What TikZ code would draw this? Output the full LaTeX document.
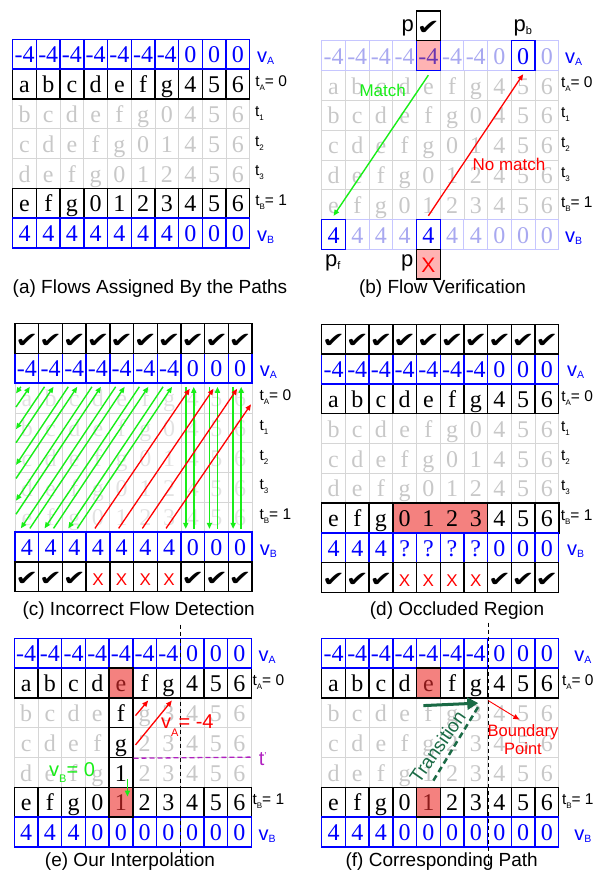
\documentclass[tikz,border=0pt]{standalone}
\usepackage{fontspec}
\setmainfont{Liberation Serif}
\setsansfont{Liberation Sans}
\newfontfamily\symf{DejaVu Sans}
\usetikzlibrary{arrows.meta,calc}
\definecolor{vblue}{HTML}{0000FF}
\definecolor{fgray}{HTML}{C8C8C8}
\definecolor{lgray}{HTML}{D6D6D6}
\definecolor{pgray}{HTML}{E2E2E2}
\definecolor{fblue}{HTML}{C6C6FF}
\definecolor{ftblue}{HTML}{A8A8F0}
\definecolor{pinkc}{HTML}{FFB3B3}
\definecolor{salmon}{HTML}{F4817F}
\definecolor{lgreen}{HTML}{18EE18}
\definecolor{dgreen}{HTML}{1A6A45}
\definecolor{tmag}{HTML}{B020C0}
\definecolor{dred}{HTML}{8B1A1A}
\definecolor{ppurple}{HTML}{6A34B0}

% row contents (blank = cell filled in later)
\def\rva{-4,-4,-4,-4,-4,-4,-4,0,0,0}
\def\rvab{-4,-4,-4,-4,,-4,-4,0,,0}
\def\rta{a,b,c,d,e,f,g,4,5,6}
\def\rtae{a,b,c,d,,f,g,4,5,6}
\def\rtone{b,c,d,e,f,g,0,4,5,6}
\def\rttwo{c,d,e,f,g,0,1,4,5,6}
\def\rtthree{d,e,f,g,0,1,2,4,5,6}
\def\rtb{e,f,g,0,1,2,3,4,5,6}
\def\rtbe{e,f,g,0,,2,3,4,5,6}
\def\rvb{4,4,4,4,4,4,4,0,0,0}
\def\rvbb{,4,4,4,,4,4,0,0,0}
\def\rvbd{4,4,4,?,?,?,?,0,0,0}
\def\rvbe{4,4,4,0,0,0,0,0,0,0}
\def\rtonee{b,c,d,e,f,g,3,4,5,6}
\def\rttwoe{c,d,e,f,g,2,3,4,5,6}
\def\rtthreee{d,e,f,g,1,2,3,4,5,6}
\def\rtoneb{b,c,d,e,,g,3,4,5,6}
\def\rttwob{c,d,e,f,,2,3,4,5,6}
\def\rtthreeb{d,e,f,g,,2,3,4,5,6}
\newcommand\ck{{\symf\fontsize{21}{21}\selectfont\scalebox{1.3}[1]{✔}}}
\newcommand\xx{{\sffamily\fontsize{17}{17}\selectfont\color{red}X}}
\def\rck{\ck,\ck,\ck,\ck,\ck,\ck,\ck,\ck,\ck,\ck}
\def\rckx{\ck,\ck,\ck,\xx,\xx,\xx,\xx,\ck,\ck,\ck}

% one row of cells: panel, row name, row index, style, list
\newcommand\cellrow[5]{\foreach \cv [count=\ci from 0] in #5 {\node[#4] (#1-#2-\ci) at (\ci+.5,#3+.5) {\cv};}}
\newcommand\sbv[1]{\raisebox{-2pt}{\fontsize{10.5}{10.5}\selectfont #1}}
\newcommand\sbt[1]{\raisebox{-4pt}{\fontsize{8}{8}\selectfont #1}}
\newcommand\sbp[1]{\raisebox{-3pt}{\fontsize{11}{11}\selectfont #1}}
% labels right of a panel: panel, v offset, t offset
\newcommand\sidelabels[3]{%
  \node[vlab] (#1-lva) at ([xshift=#2pt,yshift=-8pt]#1-va-9.east) {v\sbv{A}};
  \node[tlab] (#1-lt0) at ([xshift=#3pt,yshift=-2.5pt]#1-t0-9.east) {t\sbt{A}= 0};
  \node[tlab] (#1-lt4) at ([xshift=#3pt,yshift=-2.5pt]#1-t4-9.east) {t\sbt{B}= 1};
  \node[vlab] (#1-lvb) at ([xshift=#2pt,yshift=-8pt]#1-vb-9.east) {v\sbv{B}};}
\newcommand\midlabels[2]{%
  \node[tlab] (#1-lt1) at ([xshift=#2pt,yshift=-2.5pt]#1-t1-9.east) {t\sbt{1}};
  \node[tlab] (#1-lt2) at ([xshift=#2pt,yshift=-2.5pt]#1-t2-9.east) {t\sbt{2}};
  \node[tlab] (#1-lt3) at ([xshift=#2pt,yshift=-2.5pt]#1-t3-9.east) {t\sbt{3}};}

\begin{document}
\begin{tikzpicture}[x=23.7pt,y=-29.8pt,
  cellb/.style={minimum width=23.7pt,minimum height=29.8pt,inner sep=0pt,
                text height=17.5pt,text depth=0pt,font=\fontsize{24}{24}\selectfont},
  blk/.style={cellb,draw=black,line width=1.4pt},
  blu/.style={cellb,draw=vblue,line width=1.4pt,text=vblue},
  fad/.style={cellb,draw=lgray,line width=0.8pt,text=fgray},
  pfd/.style={cellb,draw=lgray,line width=0.8pt,text=pgray},
  fbl/.style={cellb,draw=fblue,line width=0.9pt,text=ftblue},
  vlab/.style={font=\sffamily\fontsize{20}{20}\selectfont,text=vblue,inner sep=0pt,anchor=base west},
  tlab/.style={font=\sffamily\fontsize{15.5}{15.5}\selectfont,inner sep=0pt,anchor=base west},
  plab/.style={font=\sffamily\fontsize{22}{22}\selectfont,inner sep=0pt,anchor=base west},
  capt/.style={font=\sffamily\fontsize{19}{19}\selectfont,inner sep=0pt,anchor=base},
  note/.style={font=\sffamily\fontsize{17}{17}\selectfont,inner sep=0pt,anchor=base},
  gar/.style={draw=lgreen,line width=1.4pt,-{Triangle[length=6pt,width=5pt]}},
  rar/.style={draw=red,line width=1.3pt,-{Triangle[length=6pt,width=5pt]}},
  vdash/.style={draw=black,line width=1.1pt,dash pattern=on 4pt off 3pt}]
\useasboundingbox (0pt,0pt) rectangle (600pt,-871pt);

% (a) flows along the paths
\begin{scope}[shift={(12.7pt,-39.3pt)}]
\cellrow{a}{t1}{2}{fad}{\rtone}
\cellrow{a}{t2}{3}{fad}{\rttwo}
\cellrow{a}{t3}{4}{fad}{\rtthree}
\cellrow{a}{t0}{1}{blk}{\rta}
\cellrow{a}{t4}{5}{blk}{\rtb}
\cellrow{a}{va}{0}{blu}{\rva}
\cellrow{a}{vb}{6}{blu}{\rvb}
\sidelabels{a}{6.4}{4.7}
\midlabels{a}{4.7}
\end{scope}
\node[capt] (capa) at (150pt,-293.3pt) {(a) Flows Assigned By the Paths};

% (b) verification
\begin{scope}[shift={(321.7pt,-40.7pt)}]
\cellrow{b}{t1}{2}{fad}{\rtone}
\cellrow{b}{t2}{3}{fad}{\rttwo}
\cellrow{b}{t3}{4}{fad}{\rtthree}
\cellrow{b}{t0}{1}{fad}{\rta}
\cellrow{b}{t4}{5}{fad}{\rtb}
\cellrow{b}{va}{0}{fbl}{\rvab}
\cellrow{b}{vb}{6}{fbl}{\rvbb}
\node[blu,fill=pinkc,text=ppurple] (b-hp) at (4.5,.5) {-4};
\node[blu] (b-hb) at (8.5,.5) {0};
\node[blu] (b-hf) at (.5,6.5) {4};
\node[blu] (b-hq) at (4.5,6.5) {4};
\node[blk,fill=white] (b-ck) at (4.5,-.5) {\ck};
\node[blk,fill=pinkc] (b-x) at (4.5,7.5) {\sffamily\fontsize{21}{21}\selectfont\color{red}X};
\draw[gar] ([yshift=-4pt]b-hp.south) -- ([yshift=3pt]b-hf.north);
\draw[rar] ([yshift=3pt]b-hq.north) -- ([yshift=-3pt]b-hb.south);
\sidelabels{b}{5.7}{1.7}
\midlabels{b}{1.7}
\end{scope}
\node[plab] (b-lp) at (401.5pt,-31.7pt) {p};
\node[plab] (b-lpb) at (513.5pt,-31.7pt) {p\sbp{b}};
\node[plab] (b-lpf) at (325pt,-266.7pt) {p\sbp{f}};
\node[plab] (b-lpx) at (401pt,-266.7pt) {p};
\node[note,text=lgreen] (b-lm) at (382.7pt,-96.7pt) {Match};
\node[note,text=red] (b-ln) at (509pt,-170pt) {No match};
\node[capt] (capb) at (442.5pt,-293.3pt) {(b) Flow Verification};

% (c) wrong flows
\begin{scope}[shift={(15pt,-353.3pt)}]
\cellrow{c}{t0}{1}{pfd}{\rta}
\cellrow{c}{t1}{2}{pfd}{\rtone}
\cellrow{c}{t2}{3}{pfd}{\rttwo}
\cellrow{c}{t3}{4}{pfd}{\rtthree}
\cellrow{c}{t4}{5}{pfd}{\rtb}
\cellrow{c}{va}{0}{blu}{\rva}
\cellrow{c}{vb}{6}{blu}{\rvb}
\cellrow{c}{ca}{-1}{blk}{\rck}
\cellrow{c}{cb}{7}{blk}{\rckx}
\foreach \k in {7,8,9} {
  \draw[gar,line width=1.7pt] ([xshift=-7pt,yshift=-3pt]c-va-\k.south) -- ([xshift=-7pt,yshift=2.5pt]c-vb-\k.north);
  \draw[gar,line width=1.7pt] ([xshift=1pt,yshift=2.5pt]c-vb-\k.north) -- ([xshift=1pt,yshift=-3pt]c-va-\k.south);}
\foreach \k [evaluate=\k as \j using int(\k-4)] in {4,5,6} {
  \draw[gar] ([xshift=-6pt,yshift=-3pt]c-va-\k.south) -- ([xshift=-6pt,yshift=3pt]c-vb-\j.north);
  \draw[gar] ([xshift=3pt,yshift=3pt]c-vb-\j.north) -- ([xshift=3pt,yshift=-3pt]c-va-\k.south);}
\foreach \k in {0,...,3} {
  \pgfmathsetmacro\yd{-32.8-1.5084*((\k+0.5)*23.7-7)}
  \pgfmathsetmacro\yu{-32.8-1.5084*((\k+0.5)*23.7+2)}
  \coordinate (c-dl\k) at (1pt,\yd pt);
  \coordinate (c-ul\k) at (1pt,\yu pt);
  \draw[gar] ([xshift=-6pt,yshift=-3pt]c-va-\k.south) -- (c-dl\k);
  \draw[gar] (c-ul\k) -- ([xshift=3pt,yshift=-3pt]c-va-\k.south);}
\foreach \j [evaluate=\j as \k using int(\j+4)] in {3,4,5}
  \draw[rar] ([xshift=-3pt,yshift=3pt]c-vb-\j.north) -- ([xshift=-3pt,yshift=-5pt]c-va-\k.south);
\coordinate (c-rr) at (236pt,-51pt);
\draw[rar] ([xshift=-3pt,yshift=3pt]c-vb-6.north) -- (c-rr);
\sidelabels{c}{7}{7}
\midlabels{c}{7}
\end{scope}
\node[capt] (capc) at (138.7pt,-615pt) {(c) Incorrect Flow Detection};

% (d) occlusion
\begin{scope}[shift={(321.7pt,-354pt)}]
\cellrow{d}{t1}{2}{fad}{\rtone}
\cellrow{d}{t2}{3}{fad}{\rttwo}
\cellrow{d}{t3}{4}{fad}{\rtthree}
\cellrow{d}{t0}{1}{blk}{\rta}
\fill[salmon] (3,5) rectangle (7,6);
\cellrow{d}{t4}{5}{cellb}{\rtb}
\draw[line width=1.4pt] (d-t4-0.north west) rectangle (d-t4-9.south east);
\foreach \i in {1,2,3,7,8,9} \draw[line width=1.4pt] (\i,5) -- (\i,6);
\cellrow{d}{va}{0}{blu}{\rva}
\cellrow{d}{vb}{6}{blu}{\rvbd}
\cellrow{d}{ca}{-1}{blk}{\rck}
\cellrow{d}{cb}{7}{blk}{\rckx}
\sidelabels{d}{7.4}{1.7}
\midlabels{d}{1.7}
\end{scope}
\node[capt] (capd) at (457pt,-615pt) {(d) Occluded Region};

% (e) interpolation
\begin{scope}[shift={(14.3pt,-638.3pt)}]
\cellrow{e}{t1}{2}{fad}{\rtoneb}
\cellrow{e}{t2}{3}{fad}{\rttwob}
\cellrow{e}{t3}{4}{fad}{\rtthreeb}
\cellrow{e}{t0}{1}{blk}{\rtae}
\cellrow{e}{t4}{5}{blk}{\rtbe}
\cellrow{e}{va}{0}{blu}{\rva}
\cellrow{e}{vb}{6}{blu}{\rvbe}
\node[blk,fill=salmon,text=dred] (e-he) at (4.5,1.5) {e};
\node[blk,fill=salmon,text=dred] (e-h1) at (4.5,5.5) {1};
\node[blk,fill=white] (e-bf) at (4.5,2.5) {f};
\node[blk,fill=white] (e-bg) at (4.5,3.5) {g};
\node[blk,fill=white] (e-bo) at (4.5,4.5) {1};
\draw[vdash] ([yshift=13pt]e-va-6.north east) -- ([yshift=-10pt]e-vb-6.south east);
\draw[draw=tmag,line width=1.3pt,dash pattern=on 5pt off 3pt] (e-bg.south east) -- (e-t3-9.north east);
\draw[rar] ([xshift=2pt,yshift=-2.8pt]e-bf.east) -- ([xshift=3.5pt,yshift=-2pt]e-t0-5.south);
\draw[rar] ([xshift=2pt,yshift=-2.3pt]e-bg.east) -- ([xshift=3.5pt,yshift=-2pt]e-t0-6.south);
\draw[gar] ([xshift=6.5pt,yshift=9pt]e-bo.south) -- ([xshift=6.5pt,yshift=-10pt]e-h1.north);
\node[plab,text=tmag,font=\sffamily\fontsize{20}{20}\selectfont] (e-ltp) at ([xshift=7pt,yshift=-8pt]e-t3-9.north east) {t\raisebox{6pt}{\fontsize{10}{10}\selectfont '}};
\sidelabels{e}{6.4}{0.4}
\end{scope}
\node[plab,text=red,font=\sffamily\fontsize{20}{20}\selectfont] (e-lva) at (161pt,-728.3pt) {v\raisebox{-8pt}{\fontsize{11}{11}\selectfont A}= -4};
\node[plab,text=lgreen,font=\sffamily\fontsize{20}{20}\selectfont] (e-lvb) at (49pt,-776.7pt) {v\raisebox{-6pt}{\fontsize{11}{11}\selectfont B}= 0};
\node[capt] (cape) at (130pt,-866.7pt) {(e) Our Interpolation};

% (f) path
\begin{scope}[shift={(321.7pt,-638.3pt)}]
\cellrow{f}{t1}{2}{fad}{\rtonee}
\cellrow{f}{t2}{3}{fad}{\rttwoe}
\cellrow{f}{t3}{4}{fad}{\rtthreee}
\cellrow{f}{t0}{1}{blk}{\rtae}
\cellrow{f}{t4}{5}{blk}{\rtbe}
\cellrow{f}{va}{0}{blu}{\rva}
\cellrow{f}{vb}{6}{blu}{\rvbe}
\node[blk,fill=salmon,text=dred] (f-he) at (4.5,1.5) {e};
\node[blk,fill=salmon,text=dred] (f-h1) at (4.5,5.5) {1};
\draw[vdash] ([yshift=15pt]f-va-6.north east) -- ([yshift=-19pt]f-vb-6.south east);
\draw[draw=dgreen,line width=2.5pt,dash pattern=on 6pt off 4pt] ([xshift=5pt,yshift=6pt]f-t4-4.north) -- ([xshift=-10pt,yshift=-8pt]f-t0-6.south east);
\draw[draw=dgreen,line width=3pt,-{Triangle[length=11pt,width=12pt]}] ([xshift=-5pt,yshift=-7pt]f-t0-4.south) -- ([xshift=-10pt,yshift=-4.5pt]f-t0-6.south east);
\coordinate (f-bp) at ([xshift=31pt,yshift=-21pt]f-t0-6.south east);
\draw[rar,line width=0.9pt] ([yshift=-2pt]f-t0-6.south east) -- (f-bp);
\sidelabels{f}{14.7}{2.4}
\end{scope}
\node[rotate=55,text=dgreen,font=\sffamily\fontsize{19}{19}\selectfont,inner sep=0pt] (f-ltr) at (437.5pt,-746.7pt) {Transition};
\node[text=red,font=\sffamily\fontsize{16.5}{17.7}\selectfont,align=center,inner sep=0pt] (f-lbp) at (523pt,-739.5pt) {Boundary\\Point};
\node[capt] (capf) at (441.7pt,-866.7pt) {(f) Corresponding Path};
\end{tikzpicture}
\end{document}
